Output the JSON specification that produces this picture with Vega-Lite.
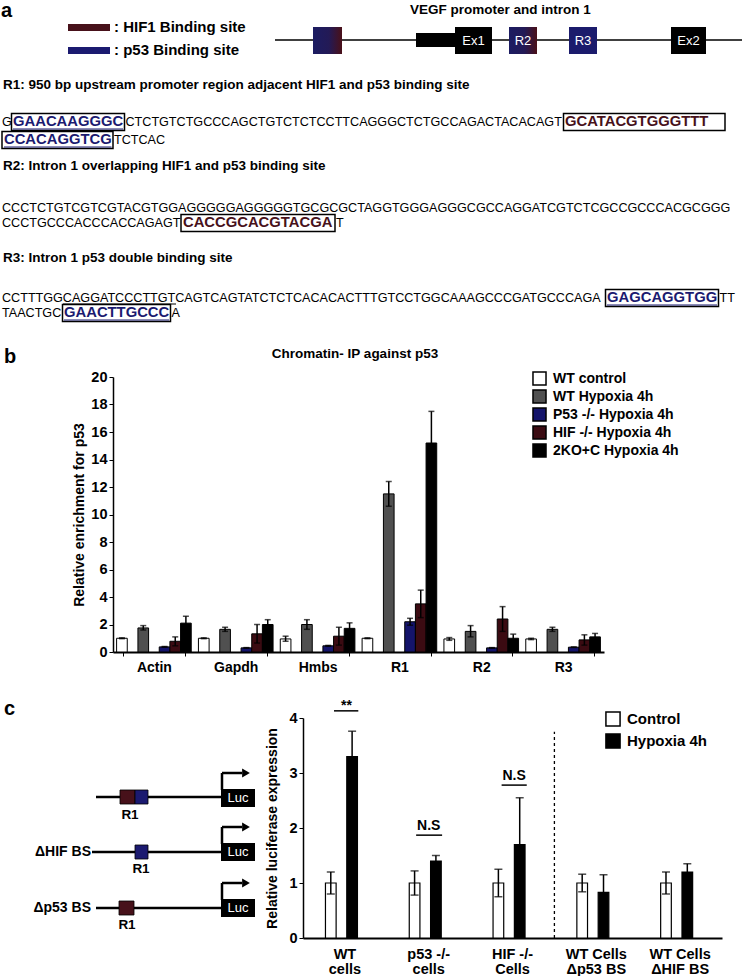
{
  "$schema": "https://vega.github.io/schema/vega-lite/v6.json",
  "padding": 0,
  "spacing": 66,
  "bounds": "flush",
  "background": "white",
  "resolve": {"scale": {"color": "independent"}, "legend": {"color": "independent"}},
  "config": {
    "view": {"stroke": null},
    "font": "Liberation Sans",
    "axis": {"labelColor": "black", "titleColor": "black", "domainColor": "black", "tickColor": "black", "labelFontWeight": "bold", "titleFontWeight": "bold", "grid": false},
    "legend": {"labelColor": "black", "labelFontWeight": "bold"},
    "title": {"color": "black", "fontWeight": "bold"}
  },
  "datasets": {
    "seqReg": [
      {"x": 2, "y": 122, "t": "G"},
      {"x": 125.5, "y": 122, "t": "CTCTGTCTGCCCAGCTGTCTCTCCTTCAGGGCTCTGCCAGACTACACAGT"},
      {"x": 114, "y": 140, "t": "TCTCAC"},
      {"x": 2, "y": 208, "t": "CCCTCTGTCGTCGTACGTGGAGGGGGAGGGGGTGCGCGCTAGGTGGGAGGGCGCCAGGATCGTCTCGCCGCCCACGCGGG"},
      {"x": 2, "y": 223, "t": "CCCTGCCCACCCACCAGAGT"},
      {"x": 336, "y": 223, "t": "T"},
      {"x": 2, "y": 298, "t": "CCTTTGGCAGGATCCCTTGTCAGTCAGTATCTCTCACACACTTTGTCCTGGCAAAGCCCGATGCCCAGA"},
      {"x": 719.5, "y": 298, "t": "TT"},
      {"x": 2, "y": 313, "t": "TAACTGC"},
      {"x": 171.5, "y": 313, "t": "A"}
    ],
    "seqBold": [
      {"x": 13, "y": 122, "t": "GAACAAGGGC", "site": "p53"},
      {"x": 565, "y": 122, "t": "GCATACGTGGGTTT", "site": "HIF1"},
      {"x": 4, "y": 140, "t": "CCACAGGTCG", "site": "p53"},
      {"x": 183, "y": 223, "t": "CACCGCACGTACGA", "site": "HIF1"},
      {"x": 607, "y": 298, "t": "GAGCAGGTGG", "site": "p53"},
      {"x": 64, "y": 313, "t": "GAACTTGCCC", "site": "p53"}
    ],
    "seqBox": [
      {"x": 11.5, "x2": 124.5, "y": 113.5, "y2": 130.5},
      {"x": 563.5, "x2": 725, "y": 113.5, "y2": 130.5},
      {"x": 2, "x2": 113, "y": 131.5, "y2": 148.5},
      {"x": 181, "x2": 335, "y": 214.5, "y2": 231.5},
      {"x": 605.5, "x2": 718.5, "y": 289.5, "y2": 306.5},
      {"x": 62.5, "x2": 170.5, "y": 304.5, "y2": 321.5}
    ],
    "seqLine": [
      {"x": 13, "x2": 123, "y": 129, "site": "p53"},
      {"x": 4, "x2": 111.5, "y": 147, "site": "p53"},
      {"x": 607, "x2": 717, "y": 305, "site": "p53"},
      {"x": 64, "x2": 169, "y": 320, "site": "p53"},
      {"x": 63, "x2": 176, "y": 304, "site": "none"}
    ],
    "heads": [
      {"x": 410, "y": 10, "t": "VEGF promoter and intron 1"},
      {"x": 3, "y": 85, "t": "R1: 950 bp upstream promoter region adjacent HIF1 and p53 binding site"},
      {"x": 3, "y": 166, "t": "R2: Intron 1 overlapping HIF1 and p53 binding site"},
      {"x": 3, "y": 258, "t": "R3: Intron 1 p53 double binding site"}
    ],
    "legText": [
      {"x": 114, "y": 27, "t": ": HIF1 Binding site"},
      {"x": 114, "y": 50, "t": ": p53 Binding site"}
    ],
    "aLabel": [{"x": 1, "y": 11, "t": "a"}, {"x": 4, "y": 357, "t": "b"}],
    "swatch": [
      {"x": 68, "x2": 110, "y": 24, "y2": 31, "site": "HIF1"},
      {"x": 68, "x2": 110, "y": 47, "y2": 54, "site": "p53"}
    ],
    "geneLine": [{"x": 275, "x2": 742, "y": 40}],
    "geneBlack": [
      {"x": 416, "x2": 456, "y": 33, "y2": 47},
      {"x": 455, "x2": 492, "y": 27, "y2": 54},
      {"x": 671, "x2": 706, "y": 27, "y2": 54}
    ],
    "geneNavy": [{"x": 569, "x2": 597, "y": 27, "y2": 54}],
    "geneGrad": [
      {"x": 313, "x2": 342, "y": 27, "y2": 54},
      {"x": 509, "x2": 537, "y": 27, "y2": 54}
    ],
    "geneText": [
      {"x": 473.5, "y": 40.5, "t": "Ex1"},
      {"x": 523, "y": 40.5, "t": "R2"},
      {"x": 583, "y": 40.5, "t": "R3"},
      {"x": 688.5, "y": 40.5, "t": "Ex2"}
    ],
    "chip": [
      {"gene": "Actin", "cond": "WT control", "v": 1.0, "lo": 0.97, "hi": 1.03},
      {"gene": "Actin", "cond": "WT Hypoxia 4h", "v": 1.75, "lo": 1.6, "hi": 1.92},
      {"gene": "Actin", "cond": "P53 -/- Hypoxia 4h", "v": 0.37, "lo": 0.35, "hi": 0.4},
      {"gene": "Actin", "cond": "HIF -/- Hypoxia 4h", "v": 0.78, "lo": 0.45, "hi": 1.1},
      {"gene": "Actin", "cond": "2KO+C Hypoxia 4h", "v": 2.1, "lo": 1.6, "hi": 2.6},
      {"gene": "Gapdh", "cond": "WT control", "v": 1.0, "lo": 0.97, "hi": 1.03},
      {"gene": "Gapdh", "cond": "WT Hypoxia 4h", "v": 1.65, "lo": 1.5, "hi": 1.8},
      {"gene": "Gapdh", "cond": "P53 -/- Hypoxia 4h", "v": 0.3, "lo": 0.28, "hi": 0.32},
      {"gene": "Gapdh", "cond": "HIF -/- Hypoxia 4h", "v": 1.32, "lo": 0.65, "hi": 2.0},
      {"gene": "Gapdh", "cond": "2KO+C Hypoxia 4h", "v": 2.0, "lo": 1.65, "hi": 2.35},
      {"gene": "Hmbs", "cond": "WT control", "v": 0.95, "lo": 0.78, "hi": 1.15},
      {"gene": "Hmbs", "cond": "WT Hypoxia 4h", "v": 2.0, "lo": 1.65, "hi": 2.35},
      {"gene": "Hmbs", "cond": "P53 -/- Hypoxia 4h", "v": 0.45, "lo": 0.42, "hi": 0.48},
      {"gene": "Hmbs", "cond": "HIF -/- Hypoxia 4h", "v": 1.15, "lo": 0.5, "hi": 1.8},
      {"gene": "Hmbs", "cond": "2KO+C Hypoxia 4h", "v": 1.72, "lo": 1.3, "hi": 2.12},
      {"gene": "R1", "cond": "WT control", "v": 1.0, "lo": 0.97, "hi": 1.03},
      {"gene": "R1", "cond": "WT Hypoxia 4h", "v": 11.5, "lo": 10.6, "hi": 12.4},
      {"gene": "R1", "cond": "P53 -/- Hypoxia 4h", "v": 2.2, "lo": 1.95, "hi": 2.45},
      {"gene": "R1", "cond": "HIF -/- Hypoxia 4h", "v": 3.5, "lo": 2.5, "hi": 4.5},
      {"gene": "R1", "cond": "2KO+C Hypoxia 4h", "v": 15.2, "lo": 12.9, "hi": 17.5},
      {"gene": "R2", "cond": "WT control", "v": 0.95, "lo": 0.85, "hi": 1.05},
      {"gene": "R2", "cond": "WT Hypoxia 4h", "v": 1.5, "lo": 1.1, "hi": 1.92},
      {"gene": "R2", "cond": "P53 -/- Hypoxia 4h", "v": 0.3, "lo": 0.28, "hi": 0.32},
      {"gene": "R2", "cond": "HIF -/- Hypoxia 4h", "v": 2.4, "lo": 1.5, "hi": 3.3},
      {"gene": "R2", "cond": "2KO+C Hypoxia 4h", "v": 1.0, "lo": 0.7, "hi": 1.3},
      {"gene": "R3", "cond": "WT control", "v": 0.95, "lo": 0.9, "hi": 1.0},
      {"gene": "R3", "cond": "WT Hypoxia 4h", "v": 1.65, "lo": 1.5, "hi": 1.8},
      {"gene": "R3", "cond": "P53 -/- Hypoxia 4h", "v": 0.35, "lo": 0.33, "hi": 0.37},
      {"gene": "R3", "cond": "HIF -/- Hypoxia 4h", "v": 0.88, "lo": 0.5, "hi": 1.25},
      {"gene": "R3", "cond": "2KO+C Hypoxia 4h", "v": 1.1, "lo": 0.85, "hi": 1.35}
    ],
    "luc": [
      {"grp": "WT|cells", "cond": "Control", "v": 1.0, "lo": 0.8, "hi": 1.2},
      {"grp": "WT|cells", "cond": "Hypoxia 4h", "v": 3.3, "lo": 2.84, "hi": 3.76},
      {"grp": "p53 -/-|cells", "cond": "Control", "v": 1.0, "lo": 0.78, "hi": 1.22},
      {"grp": "p53 -/-|cells", "cond": "Hypoxia 4h", "v": 1.4, "lo": 1.3, "hi": 1.5},
      {"grp": "HIF -/-|Cells", "cond": "Control", "v": 1.0, "lo": 0.75, "hi": 1.25},
      {"grp": "HIF -/-|Cells", "cond": "Hypoxia 4h", "v": 1.7, "lo": 0.85, "hi": 2.55},
      {"grp": "WT Cells|Δp53 BS", "cond": "Control", "v": 1.0, "lo": 0.84, "hi": 1.16},
      {"grp": "WT Cells|Δp53 BS", "cond": "Hypoxia 4h", "v": 0.83, "lo": 0.5, "hi": 1.15},
      {"grp": "WT Cells|ΔHIF BS", "cond": "Control", "v": 1.0, "lo": 0.8, "hi": 1.2},
      {"grp": "WT Cells|ΔHIF BS", "cond": "Hypoxia 4h", "v": 1.2, "lo": 1.05, "hi": 1.35}
    ],
    "cDash": [{"x": 3, "y": 0, "y2": 3.75}],
    "cBars": [
      {"x": 0.37, "x2": 0.66, "y": 4.13},
      {"x": 1.35, "x2": 1.66, "y": 1.87},
      {"x": 2.37, "x2": 2.67, "y": 2.78}
    ],
    "cText": [
      {"x": 0.52, "y": 4.22, "t": "**"},
      {"x": 1.5, "y": 2.03, "t": "N.S"},
      {"x": 2.52, "y": 2.94, "t": "N.S"}
    ],
    "dLines": [
      {"x": 96, "x2": 221, "y": 797, "y2": 797},
      {"x": 92, "x2": 221, "y": 852, "y2": 852},
      {"x": 96, "x2": 221, "y": 908, "y2": 908},
      {"x": 222, "x2": 222, "y": 773, "y2": 790},
      {"x": 222, "x2": 242, "y": 773, "y2": 773},
      {"x": 222, "x2": 222, "y": 827, "y2": 844},
      {"x": 222, "x2": 242, "y": 827, "y2": 827},
      {"x": 222, "x2": 222, "y": 883, "y2": 900},
      {"x": 222, "x2": 242, "y": 883, "y2": 883}
    ],
    "dHeads": [
      {"x": 246, "y": 773},
      {"x": 246, "y": 827},
      {"x": 246, "y": 883}
    ],
    "dSites": [
      {"x": 120, "x2": 135, "y": 790, "y2": 804, "site": "HIF1"},
      {"x": 135, "x2": 148, "y": 790, "y2": 804, "site": "p53"},
      {"x": 135, "x2": 148, "y": 845, "y2": 859, "site": "p53"},
      {"x": 119, "x2": 134, "y": 901, "y2": 915, "site": "HIF1"}
    ],
    "dLuc": [
      {"x": 221, "x2": 255, "y": 789, "y2": 807},
      {"x": 221, "x2": 255, "y": 843, "y2": 861},
      {"x": 221, "x2": 255, "y": 899, "y2": 917}
    ],
    "dLucText": [
      {"x": 238, "y": 798, "t": "Luc"},
      {"x": 238, "y": 852, "t": "Luc"},
      {"x": 238, "y": 908, "t": "Luc"}
    ],
    "dR1": [
      {"x": 130, "y": 815, "t": "R1"},
      {"x": 141, "y": 869, "t": "R1"},
      {"x": 127, "y": 925, "t": "R1"}
    ],
    "dNames": [
      {"x": 91, "y": 852, "t": "ΔHIF BS"},
      {"x": 91, "y": 908, "t": "Δp53 BS"}
    ],
    "cLabel": [{"x": 4, "y": 709, "t": "c"}]
  },
  "vconcat": [
    {
      "width": 751,
      "height": 311,
      "encoding": {
        "x": {"field": "x", "type": "quantitative", "scale": {"domain": [0, 751], "nice": false, "zero": false}, "axis": null},
        "y": {"field": "y", "type": "quantitative", "scale": {"domain": [0, 311], "reverse": true, "nice": false, "zero": false}, "axis": null}
      },
      "layer": [
        {"data": {"name": "geneLine"}, "mark": {"type": "rule", "color": "black", "strokeWidth": 1.5}, "encoding": {"x2": {"field": "x2"}}},
        {"data": {"name": "geneBlack"}, "mark": {"type": "rect", "color": "black"}, "encoding": {"x2": {"field": "x2"}, "y2": {"field": "y2"}}},
        {"data": {"name": "geneNavy"}, "mark": {"type": "rect", "color": "#1b1b6c"}, "encoding": {"x2": {"field": "x2"}, "y2": {"field": "y2"}}},
        {"data": {"name": "geneGrad"}, "mark": {"type": "rect", "color": {"gradient": "linear", "x1": 0, "y1": 0, "x2": 1, "y2": 0, "stops": [{"offset": 0, "color": "#1c1c62"}, {"offset": 0.55, "color": "#231a56"}, {"offset": 1, "color": "#4a1018"}]}}, "encoding": {"x2": {"field": "x2"}, "y2": {"field": "y2"}}},
        {"data": {"name": "geneText"}, "mark": {"type": "text", "color": "white", "fontSize": 13, "align": "center", "baseline": "middle"}, "encoding": {"text": {"field": "t"}}},
        {"data": {"name": "swatch"}, "mark": {"type": "rect"}, "encoding": {"x2": {"field": "x2"}, "y2": {"field": "y2"}, "color": {"field": "site", "type": "nominal", "scale": {"domain": ["none", "HIF1", "p53"], "range": ["#000000", "#47111a", "#1b1a70"]}, "legend": null}}},
        {"data": {"name": "legText"}, "mark": {"type": "text", "fontSize": 15, "fontWeight": "bold", "align": "left", "baseline": "middle", "color": "black"}, "encoding": {"text": {"field": "t"}}},
        {"data": {"name": "aLabel"}, "mark": {"type": "text", "fontSize": 20, "fontWeight": "bold", "align": "left", "baseline": "middle", "color": "black"}, "encoding": {"text": {"field": "t"}}},
        {"data": {"name": "heads"}, "mark": {"type": "text", "fontSize": 13.5, "fontWeight": "bold", "align": "left", "baseline": "middle", "color": "black"}, "encoding": {"text": {"field": "t"}}},
        {"data": {"name": "seqReg"}, "mark": {"type": "text", "fontSize": 12.6, "align": "left", "baseline": "middle", "color": "black"}, "encoding": {"text": {"field": "t"}}},
        {"data": {"name": "seqBold"}, "mark": {"type": "text", "fontSize": 14.8, "fontWeight": "bold", "align": "left", "baseline": "middle"}, "encoding": {"text": {"field": "t"}, "color": {"field": "site", "type": "nominal", "scale": {"domain": ["none", "HIF1", "p53"], "range": ["#000000", "#47111a", "#1b1a70"]}, "legend": null}}},
        {"data": {"name": "seqBox"}, "mark": {"type": "rect", "fillOpacity": 0, "stroke": "black", "strokeWidth": 1.5}, "encoding": {"x2": {"field": "x2"}, "y2": {"field": "y2"}}},
        {"data": {"name": "seqLine"}, "mark": {"type": "rule", "strokeWidth": 1.2}, "encoding": {"x2": {"field": "x2"}, "color": {"field": "site", "type": "nominal", "scale": {"domain": ["none", "HIF1", "p53"], "range": ["#000000", "#47111a", "#1b1a70"]}, "legend": null}}}
      ]
    },
    {
      "width": 604,
      "height": 275,
      "title": {"text": "Chromatin- IP against p53", "anchor": "middle", "frame": "group", "fontSize": 13.5, "offset": 9, "dx": 53},
      "data": {"name": "chip"},
      "encoding": {
        "x": {"field": "gene", "type": "nominal", "sort": ["Actin", "Gapdh", "Hmbs", "R1", "R2", "R3"], "scale": {"range": [113, 604], "paddingInner": 0.24, "paddingOuter": 0.12}, "axis": {"title": null, "labelAngle": 0, "labelFontSize": 14, "labelPadding": 4, "tickBand": "extent", "tickSize": 4, "domainWidth": 2}},
        "xOffset": {"field": "cond", "type": "nominal", "sort": ["WT control", "WT Hypoxia 4h", "P53 -/- Hypoxia 4h", "HIF -/- Hypoxia 4h", "2KO+C Hypoxia 4h"], "scale": {"range": [-6.22, 68.41], "paddingInner": 0, "paddingOuter": 0}}
      },
      "layer": [
        {
          "mark": {"type": "bar", "stroke": "black", "strokeWidth": 1},
          "encoding": {
            "y": {"field": "v", "type": "quantitative", "scale": {"domain": [0, 20], "nice": false}, "axis": {"title": "Relative enrichment for p53", "offset": -113, "values": [0, 2, 4, 6, 8, 10, 12, 14, 16, 18, 20], "labelFontSize": 14.5, "titleFontSize": 14, "tickSize": 4, "labelPadding": 2, "titlePadding": 4, "domainWidth": 1.5}},
            "color": {"field": "cond", "type": "nominal", "sort": ["WT control", "WT Hypoxia 4h", "P53 -/- Hypoxia 4h", "HIF -/- Hypoxia 4h", "2KO+C Hypoxia 4h"], "scale": {"domain": ["WT control", "WT Hypoxia 4h", "P53 -/- Hypoxia 4h", "HIF -/- Hypoxia 4h", "2KO+C Hypoxia 4h"], "range": ["#ffffff", "#505050", "#14146b", "#3b0b12", "#000000"]}, "legend": {"title": null, "orient": "none", "legendX": 532, "legendY": -6, "symbolType": "square", "symbolSize": 170, "symbolStrokeColor": "black", "symbolStrokeWidth": 1.5, "symbolOpacity": 1, "labelFontSize": 14, "labelFontWeight": "bold", "rowPadding": -3, "labelOffset": 6}}
          }
        },
        {
          "mark": {"type": "rule", "color": "black", "strokeWidth": 1.5},
          "encoding": {
            "y": {"field": "lo", "type": "quantitative", "scale": {"domain": [0, 20], "nice": false}, "axis": {"title": "Relative enrichment for p53", "offset": -113, "values": [0, 2, 4, 6, 8, 10, 12, 14, 16, 18, 20], "labelFontSize": 14.5, "titleFontSize": 14, "tickSize": 4, "labelPadding": 2, "titlePadding": 4, "domainWidth": 1.5}},
            "y2": {"field": "hi"}
          }
        },
        {
          "mark": {"type": "tick", "color": "black", "thickness": 1.5, "size": 6},
          "encoding": {"y": {"field": "hi", "type": "quantitative", "scale": {"domain": [0, 20], "nice": false}, "axis": {"title": "Relative enrichment for p53", "offset": -113, "values": [0, 2, 4, 6, 8, 10, 12, 14, 16, 18, 20], "labelFontSize": 14.5, "titleFontSize": 14, "tickSize": 4, "labelPadding": 2, "titlePadding": 4, "domainWidth": 1.5}}}
        },
        {
          "mark": {"type": "tick", "color": "black", "thickness": 1.5, "size": 6},
          "encoding": {"y": {"field": "lo", "type": "quantitative", "scale": {"domain": [0, 20], "nice": false}, "axis": {"title": "Relative enrichment for p53", "offset": -113, "values": [0, 2, 4, 6, 8, 10, 12, 14, 16, 18, 20], "labelFontSize": 14.5, "titleFontSize": 14, "tickSize": 4, "labelPadding": 2, "titlePadding": 4, "domainWidth": 1.5}}}
        }
      ]
    },
    {
      "width": 722,
      "height": 220,
      "layer": [
        {
          "data": {"name": "luc"},
          "encoding": {
            "x": {"field": "grp", "type": "nominal", "sort": ["WT|cells", "p53 -/-|cells", "HIF -/-|Cells", "WT Cells|Δp53 BS", "WT Cells|ΔHIF BS"], "scale": {"range": [303, 722], "paddingInner": 0.43, "paddingOuter": 0.215}, "axis": {"title": null, "labelAngle": 0, "labelExpr": "split(datum.label, '|')", "labelFontSize": 14.5, "labelLineHeight": 15, "labelPadding": 9, "ticks": false, "domainWidth": 2}},
            "xOffset": {"field": "cond", "type": "nominal", "sort": ["Control", "Hypoxia 4h"], "scale": {"range": [-11.94, 59.71], "paddingInner": 0, "paddingOuter": 0}}
          },
          "layer": [
            {
              "mark": {"type": "bar", "stroke": "black", "strokeWidth": 1.2},
              "encoding": {
                "y": {"field": "v", "type": "quantitative", "scale": {"domain": [0, 4], "nice": false}, "axis": {"title": "Relative luciferase expression", "offset": -303, "values": [0, 1, 2, 3, 4], "labelFontSize": 14.5, "titleFontSize": 14, "tickSize": 4, "labelPadding": 2, "titlePadding": 9, "domainWidth": 1.5}},
                "color": {"field": "cond", "type": "nominal", "scale": {"domain": ["Control", "Hypoxia 4h"], "range": ["#ffffff", "#000000"]}, "legend": {"title": null, "orient": "none", "legendX": 605, "legendY": -7, "symbolType": "square", "symbolSize": 200, "symbolStrokeColor": "black", "symbolStrokeWidth": 1.5, "symbolOpacity": 1, "labelFontSize": 15, "labelFontWeight": "bold", "rowPadding": 0, "labelOffset": 6}}
              }
            },
            {
              "mark": {"type": "rule", "color": "black", "strokeWidth": 1.5},
              "encoding": {
                "y": {"field": "lo", "type": "quantitative", "scale": {"domain": [0, 4], "nice": false}, "axis": {"title": "Relative luciferase expression", "offset": -303, "values": [0, 1, 2, 3, 4], "labelFontSize": 14.5, "titleFontSize": 14, "tickSize": 4, "labelPadding": 2, "titlePadding": 9, "domainWidth": 1.5}},
                "y2": {"field": "hi"}
              }
            },
            {
              "mark": {"type": "tick", "color": "black", "thickness": 1.5, "size": 8},
              "encoding": {"y": {"field": "hi", "type": "quantitative", "scale": {"domain": [0, 4], "nice": false}, "axis": {"title": "Relative luciferase expression", "offset": -303, "values": [0, 1, 2, 3, 4], "labelFontSize": 14.5, "titleFontSize": 14, "tickSize": 4, "labelPadding": 2, "titlePadding": 9, "domainWidth": 1.5}}}
            },
            {
              "mark": {"type": "tick", "color": "black", "thickness": 1.5, "size": 8},
              "encoding": {"y": {"field": "lo", "type": "quantitative", "scale": {"domain": [0, 4], "nice": false}, "axis": {"title": "Relative luciferase expression", "offset": -303, "values": [0, 1, 2, 3, 4], "labelFontSize": 14.5, "titleFontSize": 14, "tickSize": 4, "labelPadding": 2, "titlePadding": 9, "domainWidth": 1.5}}}
            }
          ]
        },
        {
          "data": {"name": "cDash"},
          "mark": {"type": "rule", "color": "black", "strokeWidth": 1.3, "strokeDash": [3, 3]},
          "encoding": {
            "x": {"field": "x", "type": "quantitative", "scale": {"domain": [-3.6158, 5], "nice": false, "zero": false}, "axis": null},
            "y": {"field": "y", "type": "quantitative", "scale": {"domain": [0, 4], "nice": false}, "axis": null},
            "y2": {"field": "y2"}
          }
        },
        {
          "data": {"name": "cBars"},
          "mark": {"type": "rule", "color": "black", "strokeWidth": 1.5},
          "encoding": {
            "x": {"field": "x", "type": "quantitative", "scale": {"domain": [-3.6158, 5], "nice": false, "zero": false}, "axis": null},
            "x2": {"field": "x2"},
            "y": {"field": "y", "type": "quantitative", "scale": {"domain": [0, 4], "nice": false}, "axis": null}
          }
        },
        {
          "data": {"name": "cText"},
          "mark": {"type": "text", "fontSize": 14, "fontWeight": "bold", "align": "center", "baseline": "middle", "color": "black"},
          "encoding": {
            "x": {"field": "x", "type": "quantitative", "scale": {"domain": [-3.6158, 5], "nice": false, "zero": false}, "axis": null},
            "y": {"field": "y", "type": "quantitative", "scale": {"domain": [0, 4], "nice": false}, "axis": null},
            "text": {"field": "t"}
          }
        },
        {
          "encoding": {
            "x": {"field": "x", "type": "quantitative", "scale": {"domain": [0, 722], "nice": false, "zero": false}, "axis": null},
            "y": {"field": "y", "type": "quantitative", "scale": {"domain": [718, 938], "reverse": true, "nice": false, "zero": false}, "axis": null}
          },
          "layer": [
            {"data": {"name": "dLines"}, "mark": {"type": "rule", "color": "black", "strokeWidth": 2.5}, "encoding": {"x2": {"field": "x2"}, "y2": {"field": "y2"}}},
            {"data": {"name": "dHeads"}, "mark": {"type": "point", "shape": "triangle-right", "filled": true, "color": "black", "size": 80, "opacity": 1}},
            {"data": {"name": "dSites"}, "mark": {"type": "rect", "stroke": "black", "strokeWidth": 0.8}, "encoding": {"x2": {"field": "x2"}, "y2": {"field": "y2"}, "color": {"field": "site", "type": "nominal", "scale": {"domain": ["HIF1", "p53"], "range": ["#47111a", "#1b1a70"]}, "legend": null}}},
            {"data": {"name": "dLuc"}, "mark": {"type": "rect", "color": "black"}, "encoding": {"x2": {"field": "x2"}, "y2": {"field": "y2"}}},
            {"data": {"name": "dLucText"}, "mark": {"type": "text", "color": "white", "fontSize": 13, "align": "center", "baseline": "middle"}, "encoding": {"text": {"field": "t"}}},
            {"data": {"name": "dR1"}, "mark": {"type": "text", "fontSize": 13.5, "fontWeight": "bold", "align": "center", "baseline": "middle", "color": "black"}, "encoding": {"text": {"field": "t"}}},
            {"data": {"name": "dNames"}, "mark": {"type": "text", "fontSize": 14, "fontWeight": "bold", "align": "right", "baseline": "middle", "color": "black"}, "encoding": {"text": {"field": "t"}}},
            {"data": {"name": "cLabel"}, "mark": {"type": "text", "fontSize": 20, "fontWeight": "bold", "align": "left", "baseline": "middle", "color": "black"}, "encoding": {"text": {"field": "t"}}}
          ]
        }
      ],
      "resolve": {"scale": {"x": "independent", "y": "independent", "color": "independent"}}
    }
  ]
}
